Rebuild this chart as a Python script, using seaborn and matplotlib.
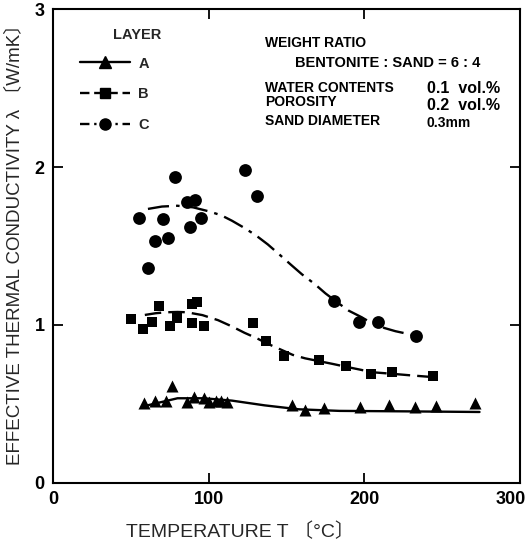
import numpy as np
import pandas as pd
import matplotlib
matplotlib.use("Agg")
import matplotlib.pyplot as plt
import matplotlib.transforms as mtransforms
import seaborn as sns
from matplotlib.lines import Line2D

# Measured points (temperature in degC, conductivity in W/mK)
a_temp = [58.6, 65.8, 72.9, 76.6, 86.4, 90.7, 96.8, 100.4, 104.8, 108.0, 111.9,
          153.5, 162.1, 174.0, 197.2, 215.8, 232.5, 246.1, 270.8]
a_cond = [0.507, 0.52, 0.52, 0.613, 0.513, 0.545, 0.535, 0.513, 0.52, 0.52, 0.51,
          0.494, 0.46, 0.473, 0.48, 0.49, 0.477, 0.486, 0.503]

b_temp = [50.0, 57.8, 63.8, 68.4, 74.9, 79.9, 89.0, 92.4, 89.6, 96.8,
          128.6, 136.6, 148.2, 170.8, 188.5, 204.4, 218.0, 244.0]
b_cond = [1.04, 0.975, 1.02, 1.12, 0.99, 1.045, 1.13, 1.145, 1.015, 0.99,
          1.01, 0.90, 0.80, 0.775, 0.74, 0.69, 0.70, 0.675]

c_temp = [55.0, 61.0, 65.4, 70.8, 73.8, 78.1, 85.9, 91.1, 88.3, 95.0,
          123.6, 131.2, 180.5, 196.3, 208.6, 232.9]
c_cond = [1.68, 1.36, 1.53, 1.67, 1.55, 1.94, 1.78, 1.79, 1.62, 1.68,
          1.98, 1.82, 1.15, 1.02, 1.02, 0.93]

# Fitted curves
a_fit_temp = [59, 80, 97, 115, 136, 158, 184, 227, 274]
a_fit_cond = [0.486, 0.535, 0.535, 0.52, 0.49, 0.465, 0.455, 0.452, 0.448]

b_fit_temp = [59, 66, 73, 80, 86, 96, 106, 115, 123, 131, 138, 146, 154, 162, 171, 180, 188, 197, 205, 218, 230, 243]
b_fit_cond = [1.063, 1.074, 1.08, 1.082, 1.08, 1.062, 1.03, 0.99, 0.95, 0.915, 0.88, 0.845, 0.81, 0.788, 0.77, 0.752, 0.735, 0.717, 0.70, 0.69, 0.68, 0.67]

c_fit_temp = [61, 70, 80, 90, 100, 108, 115, 122, 130, 138, 145, 153, 160, 168, 175, 183, 190, 198, 205, 213, 220, 227, 233]
c_fit_cond = [1.735, 1.75, 1.755, 1.745, 1.72, 1.695, 1.66, 1.62, 1.57, 1.51, 1.45, 1.38, 1.32, 1.26, 1.20, 1.14, 1.09, 1.05, 1.01, 0.98, 0.96, 0.945, 0.93]

x_ticks = [0, 100, 200, 300]
y_ticks = [0, 1, 2, 3]
layers = ["A", "B", "C"]

sns.set_style("ticks")
plt.rcParams["font.family"] = ["Liberation Sans", "DejaVu Sans", "Noto Sans CJK JP"]

fig = plt.figure(figsize=(5.32, 5.48), dpi=100)
ax = fig.add_axes([0.0996, 0.1192, 0.8778, 0.8638])

ink = "black"

# Curves
sns.lineplot(x=a_fit_temp, y=a_fit_cond, ax=ax, color=ink, lw=1.7, sort=False)
sns.lineplot(x=b_fit_temp, y=b_fit_cond, ax=ax, color=ink, lw=1.7, sort=False,
             dashes=False, linestyle=(0, (7, 3)))
sns.lineplot(x=c_fit_temp, y=c_fit_cond, ax=ax, color=ink, lw=1.7, sort=False,
             dashes=False, linestyle=(0, (9, 3, 1.5, 3)))

# Points
sns.scatterplot(x=a_temp, y=a_cond, ax=ax, marker="^", s=75, color=ink, edgecolor=ink, linewidth=0)
sns.scatterplot(x=b_temp, y=b_cond, ax=ax, marker="s", s=60, color=ink, edgecolor=ink, linewidth=0)
sns.scatterplot(x=c_temp, y=c_cond, ax=ax, marker="o", s=85, color=ink, edgecolor=ink, linewidth=0)

ax.set_xlim(0, 300)
ax.set_ylim(0, 3)
ax.set_xticks(x_ticks)
ax.set_yticks(y_ticks)
ax.tick_params(direction="in", length=7, width=1.3, top=True, right=True,
               labelsize=13, pad=6, colors=ink)
for lab in ax.get_xticklabels() + ax.get_yticklabels():
    lab.set_fontweight("bold")
# keep the last x label inside the figure
last = ax.get_xticklabels()[-1]
last.set_transform(last.get_transform() + mtransforms.ScaledTranslation(-0.09, 0, fig.dpi_scale_trans))
for sp in ax.spines.values():
    sp.set_linewidth(1.5)
    sp.set_color(ink)

ax.set_xlabel("TEMPERATURE T 〔°C〕", fontsize=14)
ax.xaxis.set_label_coords(0.40, -0.085)
ax.set_ylabel("EFFECTIVE THERMAL CONDUCTIVITY λ 〔W/mK〕", fontsize=13.5)
ax.yaxis.set_label_coords(-0.064, 0.512)

# Legend
handles = [
    Line2D([], [], color=ink, lw=1.7, marker="^", markersize=8),
    Line2D([], [], color=ink, lw=1.7, linestyle=(0, (4, 2)), marker="s", markersize=7),
    Line2D([], [], color=ink, lw=1.7, linestyle=(0, (4, 2, 1, 2)), marker="o", markersize=8),
]
leg = ax.legend(handles, layers, loc="upper left",
                bbox_to_anchor=(0.03, 0.928), frameon=False, handlelength=3.4,
                fontsize=10.5, labelspacing=1.15, numpoints=1, handletextpad=0.6)
for t in leg.get_texts():
    t.set_fontweight("bold")
ax.text(0.128, 0.946, "LAYER", transform=ax.transAxes, fontsize=10.5,
        fontweight="bold", va="center", ha="left")

# Sample conditions
tx = dict(transform=ax.transAxes, va="center", ha="left", color=ink, fontweight="bold")
ax.text(0.454, 0.929, "WEIGHT RATIO", fontsize=10, **tx)
ax.text(0.518, 0.887, "BENTONITE : SAND = 6 : 4", fontsize=10.5, **tx)
ax.text(0.454, 0.834, "WATER CONTENTS", fontsize=10, **tx)
ax.text(0.80, 0.832, "0.1  vol.%", fontsize=11.5, **tx)
ax.text(0.454, 0.804, "POROSITY", fontsize=10, **tx)
ax.text(0.80, 0.796, "0.2  vol.%", fontsize=11.5, **tx)
ax.text(0.454, 0.764, "SAND DIAMETER", fontsize=10, **tx)
ax.text(0.80, 0.760, "0.3mm", fontsize=10, **tx)

fig.savefig("out.png", dpi=100)
